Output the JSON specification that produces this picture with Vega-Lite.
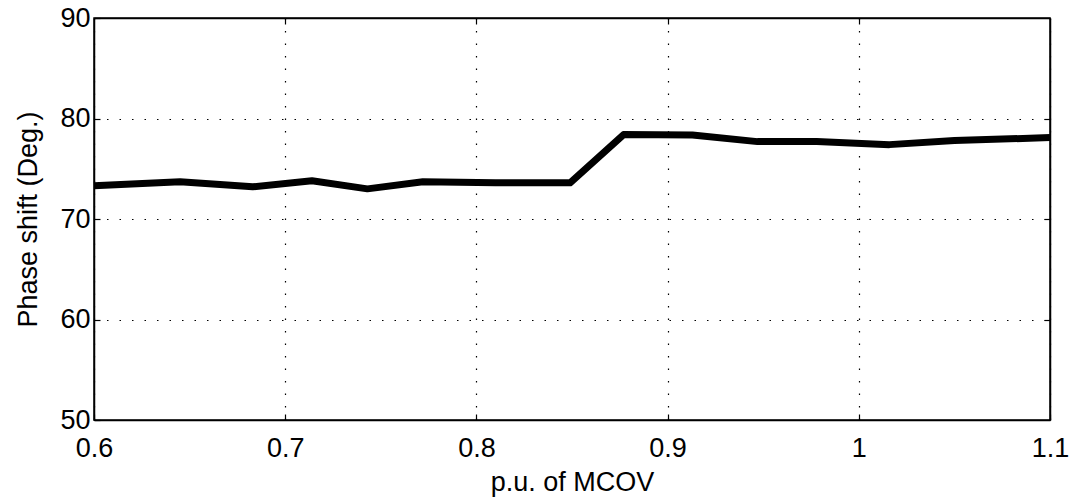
{
  "$schema": "https://vega.github.io/schema/vega-lite/v6.json",
  "width": 956,
  "height": 402,
  "autosize": {"type": "none"},
  "padding": {"left": 94, "top": 18, "right": 20, "bottom": 78},
  "background": "white",
  "config": {
    "font": "Liberation Sans",
    "view": {"stroke": "black", "strokeWidth": 1.5},
    "axis": {
      "labelFont": "Liberation Sans",
      "titleFont": "Liberation Sans",
      "labelFontSize": 27,
      "titleFontSize": 27,
      "titleFontWeight": "normal",
      "labelColor": "black",
      "titleColor": "black",
      "domainColor": "black",
      "domainWidth": 1.5,
      "tickColor": "black",
      "tickWidth": 1.2,
      "tickSize": -6,
      "gridColor": "black",
      "gridWidth": 1.2,
      "gridDash": [1.5, 11],
      "gridOpacity": 1
    }
  },
  "data": {
    "values": [
      {"mcov": 0.6, "phase": 73.3},
      {"mcov": 0.645, "phase": 73.7},
      {"mcov": 0.683, "phase": 73.2},
      {"mcov": 0.714, "phase": 73.8},
      {"mcov": 0.743, "phase": 73.0},
      {"mcov": 0.772, "phase": 73.7},
      {"mcov": 0.81, "phase": 73.6},
      {"mcov": 0.849, "phase": 73.6},
      {"mcov": 0.877, "phase": 78.4},
      {"mcov": 0.913, "phase": 78.35},
      {"mcov": 0.947, "phase": 77.7},
      {"mcov": 0.978, "phase": 77.7},
      {"mcov": 1.016, "phase": 77.4},
      {"mcov": 1.05, "phase": 77.8},
      {"mcov": 1.1, "phase": 78.1}
    ]
  },
  "layer": [
    {
      "mark": {"type": "line", "color": "black", "strokeWidth": 7, "strokeJoin": "round", "strokeCap": "butt"},
      "encoding": {
        "x": {
          "field": "mcov", "type": "quantitative",
          "scale": {"domain": [0.6, 1.1], "nice": false, "zero": false},
          "axis": {
            "title": "p.u. of MCOV",
            "values": [0.6, 0.7, 0.8, 0.9, 1, 1.1],
            "format": "~g",
            "grid": true,
            "labelPadding": 21,
            "titlePadding": 8,
            "labelFlush": false
          }
        },
        "y": {
          "field": "phase", "type": "quantitative",
          "scale": {"domain": [50, 90], "nice": false, "zero": false},
          "axis": {
            "title": "Phase shift (Deg.)",
            "values": [50, 60, 70, 80, 90],
            "grid": true,
            "labelPadding": 10,
            "titlePadding": 17,
            "labelFlush": false
          }
        }
      }
    },
    {
      "mark": {"type": "line", "opacity": 0},
      "encoding": {
        "x": {
          "field": "mcov", "type": "quantitative",
          "axis": {"orient": "top", "title": null, "labels": false, "grid": false, "values": [0.7, 0.8, 0.9, 1]}
        },
        "y": {
          "field": "phase", "type": "quantitative",
          "axis": {"orient": "right", "title": null, "labels": false, "grid": false, "values": [60, 70, 80]}
        }
      }
    }
  ],
  "resolve": {"axis": {"x": "independent", "y": "independent"}}
}
